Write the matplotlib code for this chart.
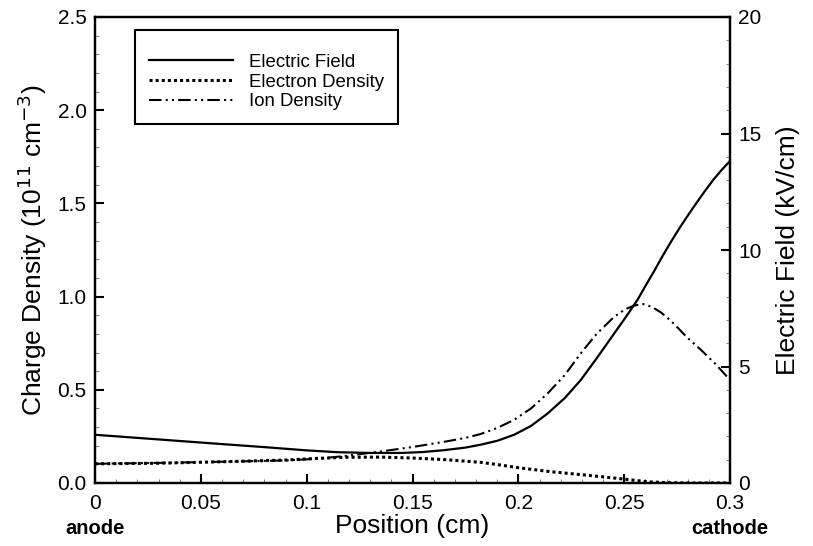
import matplotlib
matplotlib.use("Agg")
import matplotlib.pyplot as plt
from matplotlib.ticker import MultipleLocator, FormatStrFormatter

plt.rcParams['font.family'] = ['Liberation Sans', 'DejaVu Sans']

# Electric field (kV/cm) vs position (cm)
field_x = [0.0, 0.03, 0.06, 0.08, 0.10, 0.115, 0.13, 0.145, 0.155, 0.165,
           0.175, 0.182, 0.19, 0.198, 0.206, 0.2138, 0.222, 0.2295, 0.237, 0.2453,
           0.251, 0.2563, 0.26, 0.2642, 0.268, 0.2721, 0.276, 0.28, 0.284, 0.2879,
           0.292, 0.296, 0.30]
field_kv = [2.07, 1.87, 1.67, 1.54, 1.40, 1.32, 1.29, 1.29, 1.33, 1.41,
            1.52, 1.64, 1.81, 2.07, 2.45, 2.98, 3.65, 4.42, 5.35, 6.42,
            7.15, 7.86, 8.45, 9.10, 9.72, 10.35, 10.92, 11.47, 12.00, 12.50,
            13.00, 13.43, 13.82]

# Electron density (1e11 cm^-3)
electron_x = [0.0, 0.03, 0.06, 0.09, 0.105, 0.119, 0.135, 0.15, 0.166, 0.182,
              0.19, 0.2, 0.215, 0.2295, 0.24, 0.25, 0.256, 0.262, 0.27, 0.28, 0.30]
electron_n = [0.103, 0.106, 0.114, 0.123, 0.132, 0.138, 0.139, 0.134, 0.125, 0.111,
              0.099, 0.082, 0.061, 0.045, 0.033, 0.021, 0.013, 0.006, 0.002, 0.0, 0.0]

# Ion density (1e11 cm^-3)
ion_x = [0.0, 0.03, 0.06, 0.09, 0.105, 0.119, 0.135, 0.15, 0.166, 0.175,
         0.182, 0.19, 0.198, 0.206, 0.2138, 0.222, 0.2295, 0.237, 0.2453, 0.2505,
         0.2547, 0.259, 0.263, 0.2674, 0.2721, 0.276, 0.28, 0.2863, 0.293, 0.30]
ion_n = [0.103, 0.108, 0.114, 0.121, 0.130, 0.146, 0.169, 0.193, 0.223, 0.242,
         0.262, 0.295, 0.339, 0.400, 0.480, 0.580, 0.696, 0.800, 0.892, 0.932,
         0.952, 0.960, 0.945, 0.915, 0.870, 0.825, 0.778, 0.714, 0.640, 0.553]

x_ticks = [0, 0.05, 0.1, 0.15, 0.2, 0.25, 0.3]
x_labels = ['0', '0.05', '0.1', '0.15', '0.2', '0.25', '0.3']

fig = plt.figure(figsize=(8.13, 5.46), dpi=100)
ax = fig.add_axes([95 / 813, 63 / 546, 635 / 813, 466 / 546])
ax2 = ax.twinx()

l_e, = ax.plot(electron_x, electron_n, color='black', lw=2.2, linestyle=(0, (1, 1)),
               label='Electron Density')
l_i, = ax.plot(ion_x, ion_n, color='black', lw=1.5, linestyle=(0, (6, 2, 1, 2, 1, 2)),
               label='Ion Density')
l_f, = ax2.plot(field_x, field_kv, color='black', lw=1.6, label='Electric Field')

ax.set_xlim(0, 0.3)
ax.set_ylim(0, 2.5)
ax2.set_ylim(0, 20)

ax.set_xticks(x_ticks)
ax.set_xticklabels(x_labels)
ax.xaxis.set_minor_locator(MultipleLocator(0.01))
ax.yaxis.set_major_locator(MultipleLocator(0.5))
ax.yaxis.set_minor_locator(MultipleLocator(0.1))
ax.yaxis.set_major_formatter(FormatStrFormatter('%.1f'))
ax2.yaxis.set_major_locator(MultipleLocator(5))
ax2.yaxis.set_minor_locator(MultipleLocator(1))

for a in (ax, ax2):
    a.tick_params(which='major', direction='in', length=6.5, width=1.5, labelsize=15, pad=6)
    a.tick_params(which='minor', direction='in', length=3, width=0.6, color='0.4')
    for s in a.spines.values():
        s.set_linewidth(1.6)
ax.tick_params(which='both', top=False, right=False)
ax.tick_params(axis='x', which='major', pad=8)
ax2.tick_params(which='both', left=False, right=True)

ax.set_xlabel('Position (cm)', fontsize=19, labelpad=1)
ax.set_ylabel('Charge Density (10$^{11}$ cm$^{-3}$)', fontsize=19, labelpad=6)
ax2.set_ylabel('Electric Field (kV/cm)', fontsize=19, labelpad=10)

ax.text(0.0, -0.097, 'anode', transform=ax.transAxes, ha='center', va='center',
        fontsize=14.5, fontweight='bold')
ax.text(1.0, -0.097, 'cathode', transform=ax.transAxes, ha='center', va='center',
        fontsize=14.5, fontweight='bold')

leg = ax2.legend(handles=[l_f, l_e, l_i], loc='upper left', bbox_to_anchor=(0.063, 0.972),
                 fontsize=13.4, frameon=True, fancybox=False, framealpha=1,
                 edgecolor='black', handlelength=4.5, handletextpad=0.85,
                 labelspacing=0.15, borderpad=0.75, borderaxespad=0,
                 title=' ', title_fontsize=6)
leg.get_frame().set_linewidth(1.5)

fig.savefig('out.png', dpi=100)
